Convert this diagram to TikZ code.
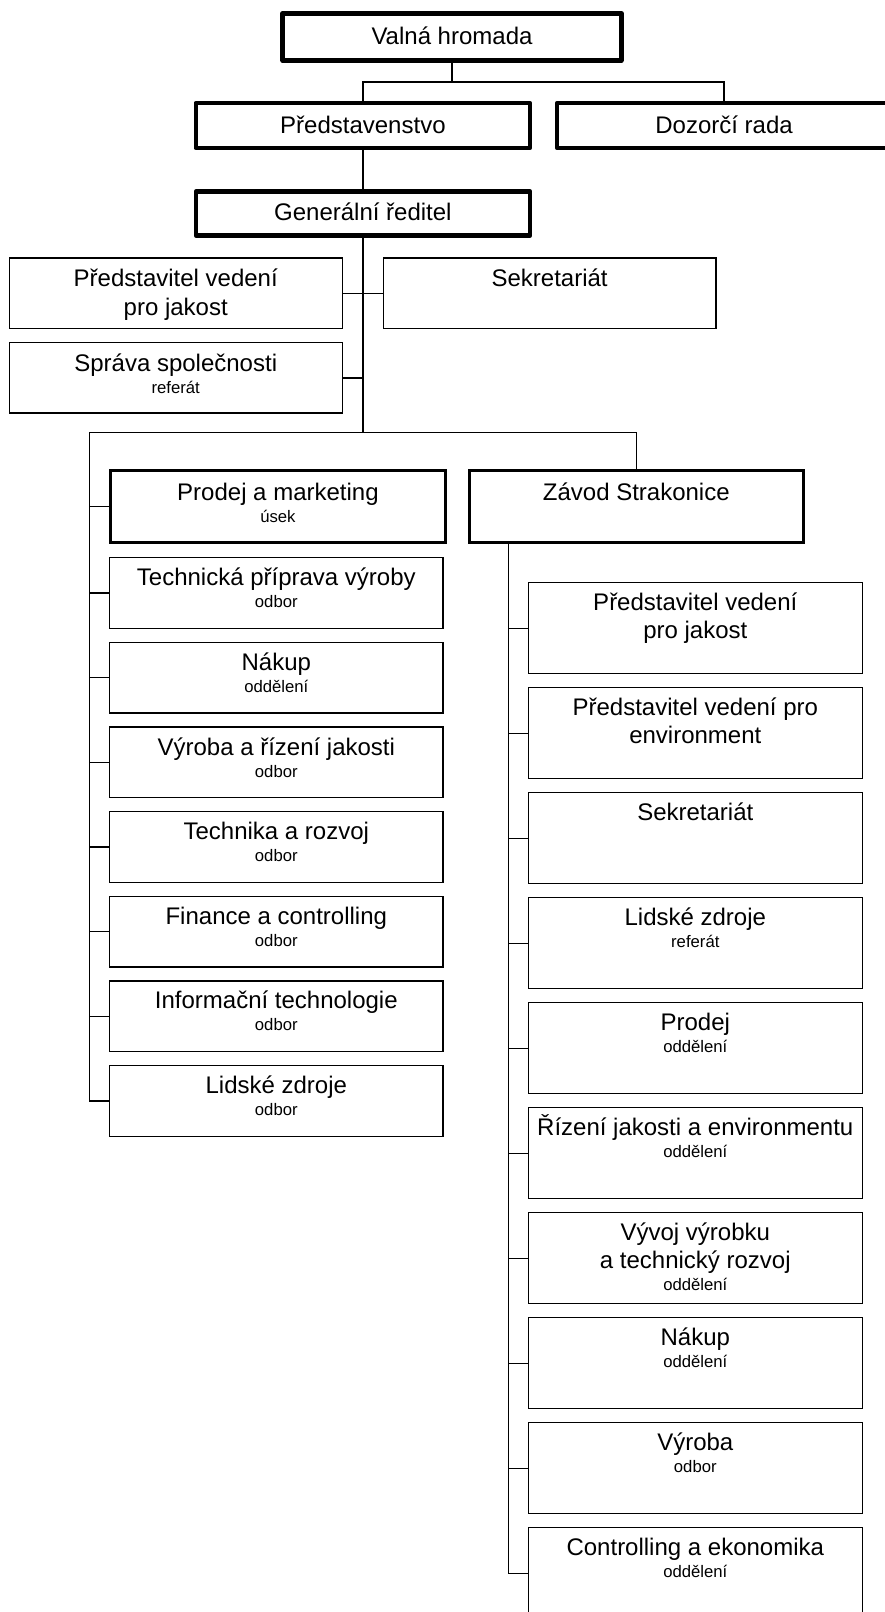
\documentclass[tikz,border=0pt]{standalone}
\usepackage{fontspec}
\setmainfont{Liberation Sans}
\usetikzlibrary{calc}
\tikzset{
  box/.style={draw=black, line width=1.3pt, inner sep=0pt, outer sep=0pt, anchor=north west, minimum width=#1},
  thickbox/.style={box=#1, line width=4.5pt, line join=round},
  midbox/.style={box=#1, line width=2.7pt},
  mt/.style={font=\fontsize{24}{28}\selectfont, inner sep=0pt, anchor=base},
  st/.style={font=\fontsize{16.7}{20}\selectfont, inner sep=0pt, anchor=base},
  conn/.style={line width=1.3pt},
  trunk/.style={line width=2pt}
}
\newcommand\boxline[5]{\node[#1] (#2) at ($(#3.north)+(0,#4)$) {#5};}
\begin{document}
\begin{tikzpicture}[x=1pt,y=-1pt]
\useasboundingbox (0,0) rectangle (885,1612);
\clip (0,0) rectangle (885,1612);

% top level
\node[thickbox=338.6pt, minimum height=47.2pt] (vh) at (282.7,13.3) {};
\boxline{mt}{vht}{vh}{31}{Valná hromada}
\node[thickbox=334.2pt, minimum height=44.6pt] (pr) at (195.8,103.2) {};
\boxline{mt}{prt}{pr}{30}{Představenstvo}
\node[thickbox=334.2pt, minimum height=44.6pt] (dr) at (557,103.2) {};
\boxline{mt}{drt}{dr}{30}{Dozorčí rada}
\node[thickbox=334.2pt, minimum height=44pt] (gr) at (195.8,191.5) {};
\boxline{mt}{grt}{gr}{28.5}{Generální ředitel}

% staff
\node[box=333.1pt, minimum height=70.3pt] (pj) at (9.2,258) {};
\boxline{mt}{pjt1}{pj}{28.7}{Představitel vedení}
\boxline{mt}{pjt2}{pj}{57}{pro jakost}
\node[box=332.8pt, minimum height=70.3pt] (sk) at (383.2,258) {};
\boxline{mt}{skt}{sk}{28}{Sekretariát}
\node[box=333.1pt, minimum height=70.3pt] (sp) at (9.2,342.7) {};
\boxline{mt}{spt1}{sp}{29}{Správa společnosti}
\boxline{st}{spt2}{sp}{51}{referát}

% divisions
\node[midbox=335.3pt, minimum height=71.6pt] (pm) at (110.3,470.7) {};
\boxline{mt}{pmt1}{pm}{29.3}{Prodej a marketing}
\boxline{st}{pmt2}{pm}{51.3}{úsek}
\node[midbox=334pt, minimum height=71.6pt] (zs) at (469.3,470.7) {};
\boxline{mt}{zst}{zs}{29.3}{Závod Strakonice}

% left column
\foreach \i/\a/\b in {0/Technická příprava výroby/odbor,1/Nákup/oddělení,2/Výroba a řízení jakosti/odbor,3/Technika a rozvoj/odbor,4/Finance a controlling/odbor,5/Informační technologie/odbor,6/Lidské zdroje/odbor}{
  \node[box=333.2pt, minimum height=70.6pt] (L\i) at (109.7,557.7+84.65*\i) {};
  \boxline{mt}{L\i a}{L\i}{28}{\a}
  \boxline{st}{L\i b}{L\i}{50}{\b}
}

% right column
\foreach \i in {0,...,9}{
  \node[box=333.8pt, minimum height=91pt] (R\i) at (528.4,582.7+105*\i) {};
}
\boxline{mt}{R0a}{R0}{27.5}{Představitel vedení}
\boxline{mt}{R0b}{R0}{55.6}{pro jakost}
\boxline{mt}{R1a}{R1}{27.5}{Představitel vedení pro}
\boxline{mt}{R1b}{R1}{55.6}{environment}
\boxline{mt}{R2a}{R2}{27.5}{Sekretariát}
\boxline{mt}{R3a}{R3}{28}{Lidské zdroje}
\boxline{st}{R3b}{R3}{50}{referát}
\boxline{mt}{R4a}{R4}{28}{Prodej}
\boxline{st}{R4b}{R4}{50}{oddělení}
\boxline{mt}{R5a}{R5}{28}{Řízení jakosti a environmentu}
\boxline{st}{R5b}{R5}{50}{oddělení}
\boxline{mt}{R6a}{R6}{27.3}{Vývoj výrobku}
\boxline{mt}{R6b}{R6}{55.6}{a technický rozvoj}
\boxline{st}{R6c}{R6}{78}{oddělení}
\boxline{mt}{R7a}{R7}{28}{Nákup}
\boxline{st}{R7b}{R7}{50}{oddělení}
\boxline{mt}{R8a}{R8}{28}{Výroba}
\boxline{st}{R8b}{R8}{50}{odbor}
\boxline{mt}{R9a}{R9}{28}{Controlling a ekonomika}
\boxline{st}{R9b}{R9}{50}{oddělení}

% connectors
\coordinate (j1) at (452,82);
\draw[conn] (vh.south) -- (j1);
\draw[conn] (pr.north) |- (j1) -| (dr.north);
\draw[conn] (pr.south) -- (gr.north);
\coordinate (j2) at (362.9,432.3);
\draw[trunk] (gr.south) -- (j2);
\draw[conn] (pj.east) -- (sk.west);
\draw[conn] (sp.east) -- (sp.east -| j2);
\coordinate (jl) at (89.2,432.3);
\draw[conn] (jl) -- (j2) -| (zs.north);
\draw[conn] (jl) |- (L6.west);
\draw[conn] (pm.west) -- (pm.west -| jl);
\foreach \i in {0,...,5}{\draw[conn] (L\i.west) -- (L\i.west -| jl);}
\coordinate (jr) at (508.5,542.3);
\draw[conn] (jr) |- (R9.west);
\foreach \i in {0,...,8}{\draw[conn] (R\i.west) -- (R\i.west -| jr);}
\end{tikzpicture}
\end{document}
